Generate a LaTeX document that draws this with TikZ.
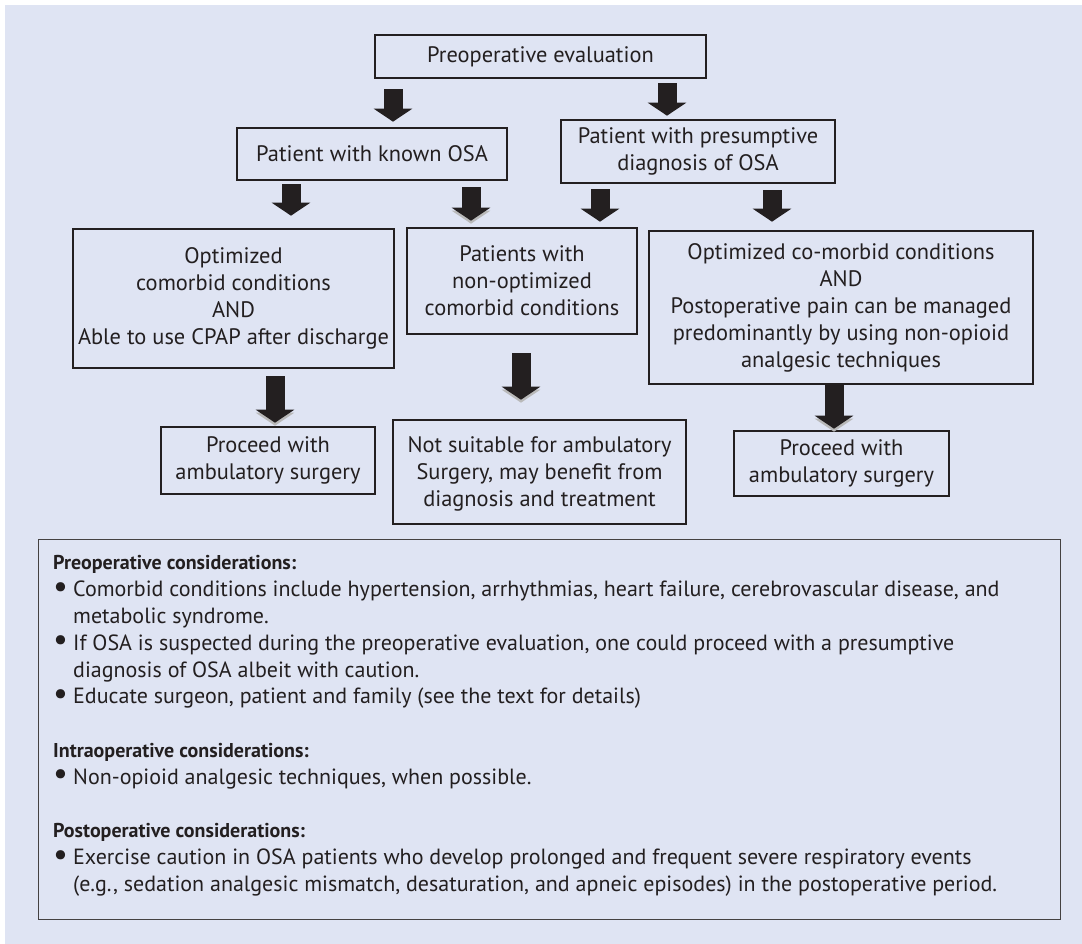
\documentclass[tikz,border=0pt]{standalone}
\usepackage{fontspec}
\usepackage{graphicx}
\setmainfont{PT Sans}
\usetikzlibrary{arrows.meta}

\definecolor{bgblue}{RGB}{223,228,243}
\definecolor{ink}{RGB}{35,31,32}

\newcommand{\notebullet}{\makebox[20pt][l]{\raisebox{-0.5pt}{\scalebox{1.5}{\textbullet}}}}
\newcommand{\noteindent}{\hspace*{20pt}}
\newcommand{\notehead}[1]{{\fontsize{20}{26.8}\selectfont\bfseries #1}}

\tikzset{
  flowbox/.style={draw=ink, line width=2.6pt, fill=bgblue, align=center, text=ink,
    inner sep=0pt, font=\fontsize{22.4}{27}\selectfont},
  notebox/.style={draw=ink!85, line width=1.3pt, fill=bgblue, inner sep=0pt},
  blockarrow/.style={draw=ink, line width=19pt, -{Triangle[length=13pt,width=38pt]}},
  shadowed/.style={preaction={draw=gray!55, transform canvas={yshift=-3pt}}},
}

\begin{document}
\begin{tikzpicture}[x=1pt,y=-1pt]
\useasboundingbox (0,0) rectangle (1082,944);
\fill[bgblue] (5,5) rectangle (1082,944);

\node[flowbox, minimum width=331pt, minimum height=43pt] (preop) at (540.5,56.5) {Preoperative evaluation};
\node[flowbox, minimum width=270pt, minimum height=52pt] (known) at (372,154) {Patient with known OSA};
\node[flowbox, minimum width=274pt, minimum height=63pt] (presum) at (698,151.5) {Patient with presumptive\\diagnosis of OSA};
\node[flowbox, minimum width=321pt, minimum height=139pt] (optim) at (233.5,298.5) {Optimized\\comorbid conditions\\AND\\Able to use CPAP after discharge};
\node[flowbox, minimum width=230pt, minimum height=106pt] (nonopt) at (522,281) {Patients with\\non-optimized\\comorbid conditions};
\node[flowbox, minimum width=384pt, minimum height=153pt] (painctl) at (841,307.5) {Optimized co-morbid conditions\\AND\\Postoperative pain can be managed\\predominantly by using non-opioid\\analgesic techniques};
\node[flowbox, minimum width=214pt, minimum height=67pt] (ambleft) at (268,460.5) {Proceed with\\ambulatory surgery};
\node[flowbox, minimum width=293pt, minimum height=104pt, text depth=-4pt] (unfit) at (539.5,472) {Not suitable for ambulatory\\Surgery, may benefit from\\diagnosis and treatment};
\node[flowbox, minimum width=215pt, minimum height=65pt] (ambright) at (841.5,463.5) {Proceed with\\ambulatory surgery};

\draw[blockarrow, shorten <=10pt, shorten >=5pt] ([xshift=-147.5pt]preop.south) -- ([xshift=-147.5pt]preop.south |- known.north);
\draw[blockarrow, shorten <=4pt, shorten >=3pt] ([xshift=126.5pt]preop.south) -- ([xshift=126.5pt]preop.south |- presum.north);
\draw[blockarrow, shorten <=3pt, shorten >=12pt] ([xshift=-81pt]known.south) -- ([xshift=-81pt]known.south |- optim.north);
\draw[blockarrow, shadowed, shorten <=6pt, shorten >=6pt] ([xshift=99pt]known.south) -- ([xshift=99pt]known.south |- nonopt.north);
\draw[blockarrow, shorten <=5pt, shorten >=5pt] ([xshift=-98pt]presum.south) -- ([xshift=-98pt]presum.south |- nonopt.north);
\draw[blockarrow, shorten <=6pt, shorten >=8pt] ([xshift=74pt]presum.south) -- ([xshift=74pt]presum.south |- painctl.north);
\draw[blockarrow, shadowed, shorten <=7pt, shorten >=3pt] ([xshift=41.5pt]optim.south) -- ([xshift=41.5pt]optim.south |- ambleft.north);
\draw[blockarrow, shadowed, shorten <=18pt, shorten >=19pt] ([xshift=-1pt]nonopt.south) -- ([xshift=-1pt]nonopt.south |- unfit.north);
\draw[blockarrow, shadowed, shorten >=1pt] ([xshift=-7pt]painctl.south) -- ([xshift=-7pt]painctl.south |- ambright.north);

% considerations below the flow chart
\node[notebox, minimum width=1022pt, minimum height=380pt, anchor=north west] (notes) at (38,539) {};
\node[anchor=north west, align=left, inner sep=0pt, text=ink, font=\fontsize{22}{26.8}\selectfont] (notetext) at (53,555.5) {%
\notehead{Preoperative considerations:}\\
\notebullet Comorbid conditions include hypertension, arrhythmias, heart failure, cerebrovascular disease, and\\
\noteindent metabolic syndrome.\\
\notebullet If OSA is suspected during the preoperative evaluation, one could proceed with a presumptive\\
\noteindent diagnosis of OSA albeit with caution.\\
\notebullet Educate surgeon, patient and family (see the text for details)\\[26.8pt]
\notehead{Intraoperative considerations:}\\
\notebullet Non-opioid analgesic techniques, when possible.\\[26.8pt]
\notehead{Postoperative considerations:}\\
\notebullet Exercise caution in OSA patients who develop prolonged and frequent severe respiratory events\\
\noteindent (e.g., sedation analgesic mismatch, desaturation, and apneic episodes) in the postoperative period.};
\end{tikzpicture}
\end{document}
